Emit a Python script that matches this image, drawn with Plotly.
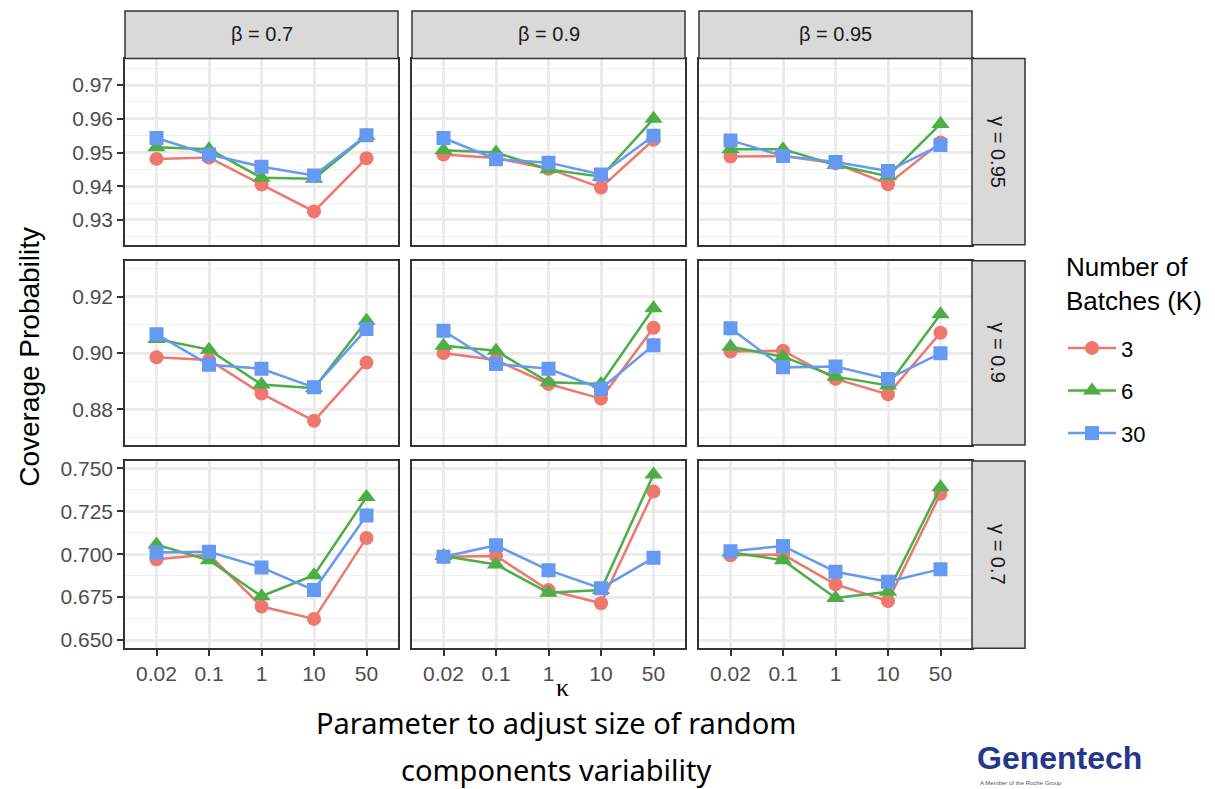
import numpy as np
import plotly.graph_objects as go

# ---------------- data ----------------
kappa = ["0.02", "0.1", "1", "10", "50"]
beta_labels = ["β = 0.7", "β = 0.9", "β = 0.95"]
gamma_labels = ["γ = 0.95", "γ = 0.9", "γ = 0.7"]
batches = ["3", "6", "30"]

# gamma = 0.95
g095_b07_k3 = [0.9481, 0.9485, 0.9405, 0.9325, 0.9483]
g095_b07_k6 = [0.9516, 0.9510, 0.9425, 0.9422, 0.9550]
g095_b07_k30 = [0.9543, 0.9494, 0.9458, 0.9432, 0.9551]
g095_b09_k3 = [0.9494, 0.9484, 0.9452, 0.9396, 0.9538]
g095_b09_k6 = [0.9507, 0.9500, 0.9450, 0.9428, 0.9600]
g095_b09_k30 = [0.9543, 0.9480, 0.9470, 0.9435, 0.9550]
g095_b095_k3 = [0.9488, 0.9490, 0.9468, 0.9406, 0.9530]
g095_b095_k6 = [0.9510, 0.9510, 0.9463, 0.9430, 0.9585]
g095_b095_k30 = [0.9536, 0.9490, 0.9472, 0.9445, 0.9522]

# gamma = 0.9
g09_b07_k3 = [0.8985, 0.8975, 0.8856, 0.8759, 0.8966]
g09_b07_k6 = [0.9050, 0.9012, 0.8888, 0.8875, 0.9115]
g09_b07_k30 = [0.9067, 0.8958, 0.8944, 0.8878, 0.9085]
g09_b09_k3 = [0.9000, 0.8975, 0.8890, 0.8838, 0.9090]
g09_b09_k6 = [0.9026, 0.9008, 0.8896, 0.8890, 0.9159]
g09_b09_k30 = [0.9079, 0.8961, 0.8944, 0.8873, 0.9028]
g09_b095_k3 = [0.9005, 0.9008, 0.8908, 0.8853, 0.9072]
g09_b095_k6 = [0.9022, 0.8987, 0.8916, 0.8885, 0.9138]
g09_b095_k30 = [0.9088, 0.8949, 0.8952, 0.8908, 0.8999]

# gamma = 0.7
g07_b07_k3 = [0.6971, 0.6998, 0.6695, 0.6623, 0.7095]
g07_b07_k6 = [0.7056, 0.6965, 0.6755, 0.6878, 0.7333]
g07_b07_k30 = [0.7010, 0.7014, 0.6923, 0.6791, 0.7226]
g07_b09_k3 = [0.6985, 0.6990, 0.6791, 0.6714, 0.7365]
g07_b09_k6 = [0.6990, 0.6940, 0.6775, 0.6791, 0.7465]
g07_b09_k30 = [0.6985, 0.7052, 0.6907, 0.6801, 0.6979]
g07_b095_k3 = [0.6994, 0.6998, 0.6824, 0.6727, 0.7352]
g07_b095_k6 = [0.7012, 0.6965, 0.6745, 0.6781, 0.7390]
g07_b095_k30 = [0.7017, 0.7048, 0.6898, 0.6840, 0.6913]

y_ticks_g095 = [0.93, 0.94, 0.95, 0.96, 0.97]
y_ticks_g09 = [0.88, 0.90, 0.92]
y_ticks_g07 = [0.650, 0.675, 0.700, 0.725, 0.750]
y_ticktext_g095 = ["0.93", "0.94", "0.95", "0.96", "0.97"]
y_ticktext_g09 = ["0.88", "0.90", "0.92"]
y_ticktext_g07 = ["0.650", "0.675", "0.700", "0.725", "0.750"]

panels = [
    [[g095_b07_k3, g095_b07_k6, g095_b07_k30],
     [g095_b09_k3, g095_b09_k6, g095_b09_k30],
     [g095_b095_k3, g095_b095_k6, g095_b095_k30]],
    [[g09_b07_k3, g09_b07_k6, g09_b07_k30],
     [g09_b09_k3, g09_b09_k6, g09_b09_k30],
     [g09_b095_k3, g09_b095_k6, g09_b095_k30]],
    [[g07_b07_k3, g07_b07_k6, g07_b07_k30],
     [g07_b09_k3, g07_b09_k6, g07_b09_k30],
     [g07_b095_k3, g07_b095_k6, g07_b095_k30]],
]
row_ticks = [y_ticks_g095, y_ticks_g09, y_ticks_g07]
row_ticktext = [y_ticktext_g095, y_ticktext_g09, y_ticktext_g07]
row_ranges = [[0.9226, 0.9779], [0.8673, 0.9328], [0.6452, 0.7544]]

# ---------------- style ----------------
W, H = 1215, 789
colors = ["#EE786D", "#4CAE46", "#6699F2"]
symbols = ["circle", "triangle-up", "square"]
msizes = [14, 16, 14]
col_px = [(125, 398), (412, 685), (699, 972)]
row_px = [(55, 243), (259, 445), (461, 650)]
strip_top = 7
strip_right = 1025
border = "#333333"
FONT = "Liberation Sans"


def px_x(v):
    return v / W


def px_y(v):
    return 1 - v / H


fig = go.Figure()
layout = {}
for r in range(3):
    tv = row_ticks[r]
    step = tv[1] - tv[0]
    minor_vals = list(np.arange(tv[0] - step / 2, tv[-1] + step, step))
    for c in range(3):
        idx = r * 3 + c + 1
        xname = "xaxis" if idx == 1 else f"xaxis{idx}"
        yname = "yaxis" if idx == 1 else f"yaxis{idx}"
        xref = "x" if idx == 1 else f"x{idx}"
        yref = "y" if idx == 1 else f"y{idx}"
        layout[xname] = dict(
            domain=[px_x(col_px[c][0]), px_x(col_px[c][1])],
            anchor=yref, type="category", categoryorder="array",
            categoryarray=kappa, range=[-0.6, 4.6],
            showgrid=True, gridcolor="#EBEBEB", gridwidth=2.5,
            showline=True, mirror=True, linecolor=border, linewidth=1.5,
            zeroline=False,
            showticklabels=(r == 2),
            ticks="outside" if r == 2 else "", ticklen=6, tickcolor=border,
            tickwidth=1.5,
            tickfont=dict(family=FONT, size=21, color="#4D4D4D"),
            fixedrange=True,
        )
        layout[yname] = dict(
            domain=[px_y(row_px[r][1]), px_y(row_px[r][0])],
            anchor=xref, range=row_ranges[r],
            tickmode="array", tickvals=tv, ticktext=row_ticktext[r],
            showgrid=True, gridcolor="#EBEBEB", gridwidth=2.5,
            minor=dict(tickmode="array", tickvals=minor_vals, showgrid=True,
                       gridcolor="#F0F0F0", gridwidth=1.2, ticks=""),
            showline=True, mirror=True, linecolor=border, linewidth=1.5,
            zeroline=False,
            showticklabels=(c == 0),
            ticks="outside" if c == 0 else "", ticklen=6, tickcolor=border,
            tickwidth=1.5,
            tickfont=dict(family=FONT, size=21, color="#4D4D4D"),
            fixedrange=True,
        )
        for s in range(3):
            fig.add_trace(go.Scatter(
                x=kappa, y=panels[r][c][s], xaxis=xref, yaxis=yref,
                mode="lines+markers", name=batches[s],
                legendgroup=batches[s], showlegend=(idx == 1),
                line=dict(color=colors[s], width=2.5),
                marker=dict(symbol=symbols[s], size=msizes[s], color=colors[s],
                            line=dict(width=0)),
            ))

shapes = []
annotations = []


def note(x, y, text, size, color="#000000", family=FONT, **kw):
    d = dict(xref="paper", yref="paper", x=px_x(x), y=px_y(y), text=text,
             showarrow=False, xanchor="center", yanchor="middle",
             font=dict(family=family, size=size, color=color))
    d.update(kw)
    annotations.append(d)


# top strips
for c in range(3):
    shapes.append(dict(type="rect", xref="paper", yref="paper",
                       x0=px_x(col_px[c][0]), x1=px_x(col_px[c][1]),
                       y0=px_y(row_px[0][0]), y1=px_y(strip_top),
                       fillcolor="#D9D9D9", line=dict(color=border, width=1.5)))
    note((col_px[c][0] + col_px[c][1]) / 2, 30, beta_labels[c], 20, "#1A1A1A")
# right strips
for r in range(3):
    shapes.append(dict(type="rect", xref="paper", yref="paper",
                       x0=px_x(col_px[2][1]), x1=px_x(strip_right),
                       y0=px_y(row_px[r][1]), y1=px_y(row_px[r][0]),
                       fillcolor="#D9D9D9", line=dict(color=border, width=1.5)))
    note((col_px[2][1] + strip_right) / 2, (row_px[r][0] + row_px[r][1]) / 2,
         gamma_labels[r], 20, "#1A1A1A", textangle=90)

note(30, 356, "Coverage Probability", 28, textangle=-90)
note(562, 690, "κ", 26, family="Liberation Serif")
note(556, 725, "Parameter to adjust size of random", 29, family="Noto Sans")
note(556, 772, "components variability", 29, family="Noto Sans")
note(1059, 781, "<b>Genentech</b>", 32, "#24378A", yanchor="bottom")
note(978, 781, "A Member of the Roche Group", 6, "#555555",
     xanchor="left", yanchor="top")
# legend title
note(1064, 283, "Number of<br>Batches (K)", 26, xanchor="left", align="left")

fig.update_layout(
    width=W, height=H,
    margin=dict(l=0, r=0, t=0, b=0),
    paper_bgcolor="white", plot_bgcolor="white",
    shapes=shapes, annotations=annotations,
    legend=dict(x=px_x(1063), y=px_y(326), xanchor="left", yanchor="top",
                font=dict(family=FONT, size=22, color="#000000"),
                tracegroupgap=11, itemwidth=48, bgcolor="rgba(0,0,0,0)"),
    **layout,
)

fig.write_html("out.html", config={"displayModeBar": False},
               post_script="document.body.style.margin='0px';")
